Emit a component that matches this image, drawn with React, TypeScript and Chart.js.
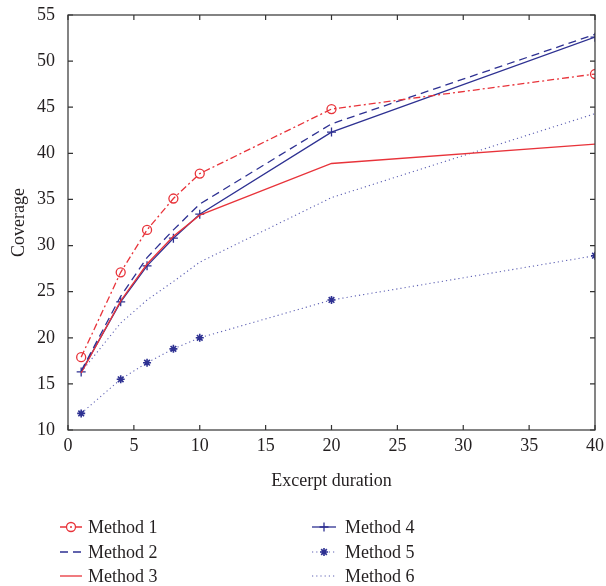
import React, { useEffect, useRef } from 'react';
import { Chart, registerables } from 'chart.js';

Chart.register(...registerables);

const xValues = [1, 4, 6, 8, 10, 20, 40];
const method1 = [17.9, 27.1, 31.7, 35.1, 37.8, 44.8, 48.6];
const method2 = [16.4, 24.5, 28.7, 31.7, 34.5, 43.2, 52.9];
const method3 = [16.2, 24.0, 28.0, 31.0, 33.3, 38.9, 41.0];
const method4 = [16.3, 23.9, 27.8, 30.8, 33.4, 42.3, 52.6];
const method5 = [11.8, 15.5, 17.3, 18.8, 20.0, 24.1, 28.9];
const method6 = [16.3, 21.6, 24.1, 26.1, 28.2, 35.2, 44.3];
const seriesNames = ['Method 1', 'Method 2', 'Method 3', 'Method 4', 'Method 5', 'Method 6'];
const xTitle = 'Excerpt duration';
const yTitle = 'Coverage';

const FONT = '"Liberation Serif", "Times New Roman", serif';
const TEXT = '#231f20';
const RED = '#e8333a';
const BLUE = '#2e3192';
const BLUE_DOT = '#5f62b4';

function drawMarker(ctx: CanvasRenderingContext2D, style: string, x: number, y: number, r: number, color: string, bw: number) {
  ctx.save();
  ctx.setLineDash([]);
  ctx.strokeStyle = color;
  ctx.lineWidth = bw;
  ctx.beginPath();
  if (style === 'circle') {
    ctx.arc(x, y, r, 0, Math.PI * 2);
  } else if (style === 'cross') {
    ctx.moveTo(x - r, y); ctx.lineTo(x + r, y);
    ctx.moveTo(x, y - r); ctx.lineTo(x, y + r);
  } else if (style === 'star') {
    ctx.moveTo(x - r, y); ctx.lineTo(x + r, y);
    ctx.moveTo(x, y - r); ctx.lineTo(x, y + r);
    const d = r * Math.SQRT1_2;
    ctx.moveTo(x - d, y - d); ctx.lineTo(x + d, y + d);
    ctx.moveTo(x - d, y + d); ctx.lineTo(x + d, y - d);
  }
  ctx.stroke();
  ctx.restore();
}

const framePlugin = {
  id: 'frameAndLegend',
  afterDraw(chart: any) {
    const { ctx, chartArea } = chart;
    const { left, right, top, bottom } = chartArea;
    const xs = chart.scales.x;
    const ys = chart.scales.y;
    ctx.save();
    ctx.strokeStyle = '#333';
    ctx.lineWidth = 1.2;
    ctx.setLineDash([]);
    ctx.strokeRect(left, top, right - left, bottom - top);
    ctx.beginPath();
    xs.ticks.forEach((t: any) => {
      const px = xs.getPixelForValue(t.value);
      ctx.moveTo(px, bottom); ctx.lineTo(px, bottom - 5);
      ctx.moveTo(px, top); ctx.lineTo(px, top + 5);
    });
    ys.ticks.forEach((t: any) => {
      const py = ys.getPixelForValue(t.value);
      ctx.moveTo(left, py); ctx.lineTo(left + 5, py);
      ctx.moveTo(right, py); ctx.lineTo(right - 5, py);
    });
    ctx.stroke();

    // legend: two columns of three rows
    const lineX0 = [60, 312];
    const lineX1 = [82, 336];
    const textX = [88, 345];
    const rowY = [527, 552, 576];
    ctx.font = `18px ${FONT}`;
    ctx.textBaseline = 'middle';
    ctx.textAlign = 'left';
    chart.data.datasets.forEach((ds: any, i: number) => {
      const col = i < 3 ? 0 : 1;
      const row = i % 3;
      const y = rowY[row];
      ctx.save();
      ctx.strokeStyle = ds.borderColor;
      ctx.lineWidth = ds.borderWidth;
      ctx.setLineDash(ds.borderDash || []);
      ctx.beginPath();
      ctx.moveTo(lineX0[col], y);
      ctx.lineTo(lineX1[col], y);
      ctx.stroke();
      ctx.restore();
      if (ds.pointRadius > 0) {
        drawMarker(ctx, ds.pointStyle, (lineX0[col] + lineX1[col]) / 2, y, ds.pointRadius, ds.pointBorderColor, ds.pointBorderWidth);
      }
      ctx.fillStyle = TEXT;
      ctx.fillText(ds.label, textX[col], y + 1);
    });
    ctx.restore();
  },
};

function toPoints(ys: number[]) {
  return xValues.map((x, i) => ({ x, y: ys[i] }));
}

export default function App() {
  const ref = useRef<HTMLCanvasElement>(null);
  useEffect(() => {
    if (!ref.current) return;
    const mk = (label: string, data: number[], color: string, dash: number[], style: string, radius: number, width = 1.3, markerColor?: string) => ({
      label,
      data: toPoints(data),
      borderColor: color,
      backgroundColor: color,
      borderWidth: width,
      borderDash: dash,
      pointStyle: style,
      pointRadius: radius,
      pointHoverRadius: radius,
      pointBorderColor: markerColor || color,
      pointBackgroundColor: 'rgba(0,0,0,0)',
      pointBorderWidth: style === 'star' ? 1.6 : 1.3,
      tension: 0,
      fill: false,
    });
    const chart = new Chart(ref.current, {
      type: 'line',
      data: {
        datasets: [
          mk(seriesNames[0], method1, RED, [7, 3, 2, 3], 'circle', 4.5),
          mk(seriesNames[1], method2, BLUE, [8, 5], 'circle', 0),
          mk(seriesNames[2], method3, RED, [], 'circle', 0),
          mk(seriesNames[3], method4, BLUE, [], 'cross', 4.5),
          mk(seriesNames[4], method5, BLUE_DOT, [1.2, 3], 'star', 4, 1.1, BLUE),
          mk(seriesNames[5], method6, BLUE_DOT, [1.2, 3], 'circle', 0, 1.1),
        ] as any,
      },
      options: {
        responsive: false,
        animation: false,
        layout: { padding: { top: 15, right: 11, left: 0, bottom: 90 } },
        plugins: { legend: { display: false }, tooltip: { enabled: false } },
        scales: {
          x: {
            type: 'linear',
            min: 0,
            max: 40,
            ticks: { stepSize: 5, padding: 5, color: TEXT, font: { family: FONT, size: 18 }, maxRotation: 0 },
            grid: { display: false, drawTicks: false },
            border: { display: false },
            title: { display: true, text: xTitle, color: TEXT, font: { family: FONT, size: 18 }, padding: { top: 0, bottom: 4 } },
            afterFit: (s: any) => { s.height = 66; s.paddingLeft = 0; s.paddingRight = 0; },
          },
          y: {
            type: 'linear',
            min: 10,
            max: 55,
            ticks: { stepSize: 5, padding: 13, color: TEXT, font: { family: FONT, size: 18 } },
            grid: { display: false, drawTicks: false },
            border: { display: false },
            title: { display: true, text: yTitle, color: TEXT, font: { family: FONT, size: 18 }, padding: { top: 8, bottom: 0 } },
            afterFit: (s: any) => { s.width = 68; s.paddingTop = 0; s.paddingBottom = 0; },
          },
        },
      },
      plugins: [framePlugin],
    } as any);
    return () => chart.destroy();
  }, []);
  return (
    <canvas
      ref={ref}
      width={606}
      height={586}
      style={{ position: 'absolute', left: 0, top: 0, width: 606, height: 586 }}
    />
  );
}
